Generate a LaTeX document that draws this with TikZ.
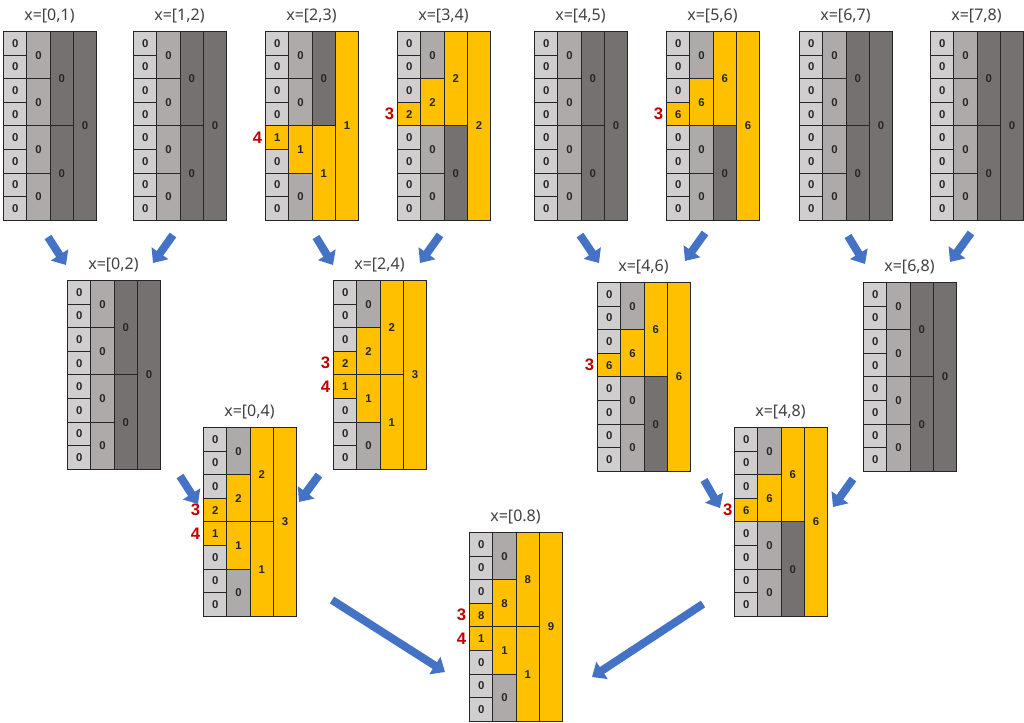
\documentclass[tikz,border=0pt]{standalone}
\usepackage{fontspec}
\setmainfont{Noto Sans}
\newfontfamily\segnumfont{Liberation Sans}
\usepackage{tikz}
\usetikzlibrary{positioning, arrows.meta}

\definecolor{seglight}{HTML}{D0CECE}
\definecolor{segmid}{HTML}{AEAAAA}
\definecolor{segdark}{HTML}{767171}
\definecolor{segyellow}{HTML}{FFC000}
\definecolor{segblue}{HTML}{4472C4}
\definecolor{segred}{HTML}{C00000}
\definecolor{segtext}{HTML}{404040}

\tikzset{
  segbox/.style={draw=black!85, line width=0.8pt, inner sep=0pt, anchor=north west,
    minimum width=17.44pt, font=\segnumfont\fontsize{8.5}{9}\selectfont\bfseries, text=black!85},
  segtitle/.style={font=\fontsize{12}{14}\selectfont, text=segtext, inner sep=0pt},
  segmark/.style={font=\segnumfont\fontsize{12.5}{14}\selectfont\bfseries, text=segred, inner sep=0pt},
  segarrow/.style={draw=segblue, line width=6pt, -{Triangle[length=9pt, width=15pt]}}
}

% one cell: name, x, y, span, value, colour when zero
\newcommand{\segcell}[6]{%
  \ifnum#5=0 \def\segfill{#6}\else\def\segfill{segyellow}\fi
  \node[segbox, fill=\segfill, minimum height={#4*17.7pt}] (#1) at ({#2},{#3}) {#5};}

% one tree: name, left, top, title, leaves, level 2, level 3, root
\newcommand{\segblock}[8]{%
  \coordinate (#1) at (#2,#3);
  \node[segtitle] (#1-t) at ({#2+46.5},{#3-15}) {#4};
  \foreach \v [count=\i from 0] in {#5}
    {\segcell{#1-a\i}{#2}{#3+\i*23.6}{1}{\v}{seglight}}
  \foreach \v [count=\i from 0] in {#6}
    {\segcell{#1-b\i}{#2+23.25}{#3+\i*47.2}{2}{\v}{segmid}}
  \foreach \v [count=\i from 0] in {#7}
    {\segcell{#1-c\i}{#2+46.5}{#3+\i*94.4}{4}{\v}{segdark}}
  \segcell{#1-d0}{#2+69.75}{#3}{8}{#8}{segdark}}

\begin{document}
\begin{tikzpicture}[x=0.75pt, y=-0.75pt]
    \useasboundingbox (0,0) rectangle (1024,723);

    % leaves
    \segblock{b01}{3}{31}{x=[0,1)}{0,0,0,0,0,0,0,0}{0,0,0,0}{0,0}{0}
    \segblock{b12}{133}{31}{x=[1,2)}{0,0,0,0,0,0,0,0}{0,0,0,0}{0,0}{0}
    \segblock{b23}{265}{31}{x=[2,3)}{0,0,0,0,1,0,0,0}{0,0,1,0}{0,1}{1}
    \segblock{b34}{397}{31}{x=[3,4)}{0,0,0,2,0,0,0,0}{0,2,0,0}{2,0}{2}
    \segblock{b45}{534}{31}{x=[4,5)}{0,0,0,0,0,0,0,0}{0,0,0,0}{0,0}{0}
    \segblock{b56}{666}{31}{x=[5,6)}{0,0,0,6,0,0,0,0}{0,6,0,0}{6,0}{6}
    \segblock{b67}{799}{31}{x=[6,7)}{0,0,0,0,0,0,0,0}{0,0,0,0}{0,0}{0}
    \segblock{b78}{930}{31}{x=[7,8)}{0,0,0,0,0,0,0,0}{0,0,0,0}{0,0}{0}

    % merged trees
    \segblock{b02}{67}{280}{x=[0,2)}{0,0,0,0,0,0,0,0}{0,0,0,0}{0,0}{0}
    \segblock{b24}{333}{280}{x=[2,4)}{0,0,0,2,1,0,0,0}{0,2,1,0}{2,1}{3}
    \segblock{b46}{597}{282}{x=[4,6)}{0,0,0,6,0,0,0,0}{0,6,0,0}{6,0}{6}
    \segblock{b68}{863}{282}{x=[6,8)}{0,0,0,0,0,0,0,0}{0,0,0,0}{0,0}{0}
    \segblock{b04}{203}{427}{x=[0,4)}{0,0,0,2,1,0,0,0}{0,2,1,0}{2,1}{3}
    \segblock{b48}{734}{427}{x=[4,8)}{0,0,0,6,0,0,0,0}{0,6,0,0}{6,0}{6}
    \segblock{b08}{469}{532}{x=[0.8)}{0,0,0,8,1,0,0,0}{0,8,1,0}{8,1}{9}

    % red indices
    \node[segmark, left=2pt of b23-a4] (b23-m4) {4};
    \node[segmark, left=2pt of b34-a3] (b34-m3) {3};
    \node[segmark, left=2pt of b56-a3] (b56-m3) {3};
    \node[segmark, left=2pt of b24-a3] (b24-m3) {3};
    \node[segmark, left=2pt of b24-a4] (b24-m4) {4};
    \node[segmark, left=2pt of b46-a3] (b46-m3) {3};
    \node[segmark, left=2pt of b04-a3] (b04-m3) {3};
    \node[segmark, left=2pt of b04-a4] (b04-m4) {4};
    \node[segmark, left=1pt of b48-a3] (b48-m3) {3};
    \node[segmark, left=2pt of b08-a3] (b08-m3) {3};
    \node[segmark, left=2pt of b08-a4] (b08-m4) {4};

    % arrow ends
    \coordinate (p01) at (48,237);   \coordinate (q01) at (66,265);
    \coordinate (p12) at (173,235);  \coordinate (q12) at (153,263);
    \coordinate (p23) at (316,237);  \coordinate (q23) at (333,265);
    \coordinate (p34) at (440,235);  \coordinate (q34) at (420,263);
    \coordinate (p45) at (580,235);  \coordinate (q45) at (599,263);
    \coordinate (p56) at (705,233);  \coordinate (q56) at (685,261);
    \coordinate (p67) at (848,236);  \coordinate (q67) at (865,264);
    \coordinate (p78) at (971,233);  \coordinate (q78) at (950,262);
    \coordinate (p02) at (180,476);  \coordinate (q02) at (198,504);
    \coordinate (p24) at (319,475);  \coordinate (q24) at (299,502);
    \coordinate (p46) at (704,480);  \coordinate (q46) at (720,508);
    \coordinate (p68) at (853,479);  \coordinate (q68) at (833,507);
    \coordinate (p04) at (332,600);  \coordinate (q04) at (445,672);
    \coordinate (p48) at (703,604);  \coordinate (q48) at (592,677);

    \draw[segarrow] (p01) -- (q01);
    \draw[segarrow] (p12) -- (q12);
    \draw[segarrow] (p23) -- (q23);
    \draw[segarrow] (p34) -- (q34);
    \draw[segarrow] (p45) -- (q45);
    \draw[segarrow] (p56) -- (q56);
    \draw[segarrow] (p67) -- (q67);
    \draw[segarrow] (p78) -- (q78);
    \draw[segarrow] (p02) -- (q02);
    \draw[segarrow] (p24) -- (q24);
    \draw[segarrow] (p46) -- (q46);
    \draw[segarrow] (p68) -- (q68);
    \draw[segarrow] (p04) -- (q04);
    \draw[segarrow] (p48) -- (q48);
\end{tikzpicture}
\end{document}
